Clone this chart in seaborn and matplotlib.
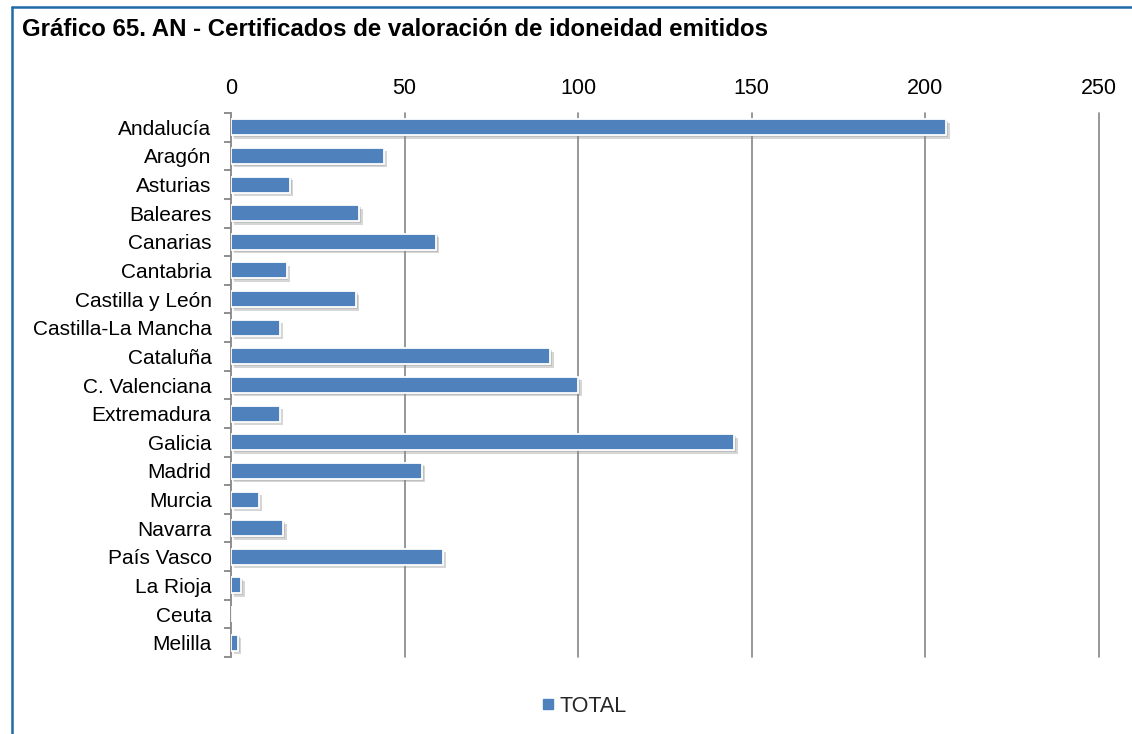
import matplotlib
matplotlib.use("Agg")
import matplotlib.pyplot as plt
import matplotlib.patheffects as pe
from matplotlib.lines import Line2D
import seaborn as sns
import pandas as pd
import numpy as np

# Certificados de valoración de idoneidad emitidos por comunidad
regiones = [
    "Andalucía", "Aragón", "Asturias", "Baleares", "Canarias", "Cantabria",
    "Castilla y León", "Castilla-La Mancha", "Cataluña", "C. Valenciana",
    "Extremadura", "Galicia", "Madrid", "Murcia", "Navarra", "País Vasco",
    "La Rioja", "Ceuta", "Melilla",
]
total = [206, 44, 17, 37, 59, 16, 36, 14, 92, 100, 14, 145, 55, 8, 15, 61, 3, 0, 2]
x_ticks = [0, 50, 100, 150, 200, 250]
serie = "TOTAL"
titulo = "Gráfico 65. AN - Certificados de valoración de idoneidad emitidos"

df = pd.DataFrame({"region": regiones, "valor": total})

sns.set_theme(style="white")
plt.rcParams["font.family"] = ["Liberation Sans", "DejaVu Sans"]

BAR = "#4F81BD"
GRID = "#868686"

fig = plt.figure(figsize=(11.32, 7.34), dpi=100)
ax = fig.add_axes([231 / 1132, 77 / 734, (1099 - 231) / 1132, (657 - 113) / 734])

sns.barplot(data=df, y="region", x="valor", orient="h", color=BAR,
            width=0.56, edgecolor="white", linewidth=1.3, saturation=1,
            ax=ax)

shadow = [pe.SimplePatchShadow(offset=(2.5, -2.5), shadow_rgbFace="#8a8a8a", alpha=0.35),
          pe.SimplePatchShadow(offset=(1.2, -1.2), shadow_rgbFace="#8a8a8a", alpha=0.3),
          pe.Normal()]
for p in ax.patches:
    p.set_path_effects(shadow)
    p.set_zorder(3)

ax.set_xlim(0, 250)
ax.set_ylim(len(regiones) - 0.5, -0.5)
ax.set_xticks(x_ticks)
ax.set_xticklabels([str(v) for v in x_ticks])
ax.xaxis.tick_top()
ax.tick_params(axis="x", length=0, pad=10, labelsize=15.5, colors="black")
ax.set_xlabel("")
ax.set_ylabel("")

# category labels without marks, boundary marks between categories
ax.tick_params(axis="y", which="major", length=0, pad=14, labelsize=15, colors="black")
ax.set_yticks(np.arange(len(regiones) + 1) - 0.5, minor=True)
ax.tick_params(axis="y", which="minor", length=5, width=1.3, color=GRID, left=True)

for v in x_ticks[1:]:
    ax.axvline(v, color=GRID, lw=1.2, zorder=1, clip_on=False)

for s in ["top", "right", "bottom"]:
    ax.spines[s].set_visible(False)
ax.spines["left"].set_color(GRID)
ax.spines["left"].set_linewidth(1.3)
ax.grid(False)

# title and frame
fig.text(22 / 1132, 1 - 30 / 734, titulo, fontsize=17.3, fontweight="bold",
         va="center", ha="left", color="black")
frame_col = "#1F6BA8"
fig.add_artist(Line2D([11.5 / 1132, 1.0], [1 - 7 / 734, 1 - 7 / 734],
                      transform=fig.transFigure, color=frame_col, lw=1.8))
fig.add_artist(Line2D([11.5 / 1132, 11.5 / 1132], [0.0, 1 - 7 / 734],
                      transform=fig.transFigure, color=frame_col, lw=1.8))

handle = Line2D([], [], marker="s", linestyle="none", markersize=7,
                markerfacecolor=BAR, markeredgecolor=BAR)
fig.legend([handle], [serie], loc="center", bbox_to_anchor=(583 / 1132, 1 - 706 / 734),
           frameon=False, fontsize=15.5, handletextpad=0.1, handlelength=0.8)

fig.savefig("out.png", dpi=100, facecolor="white")
